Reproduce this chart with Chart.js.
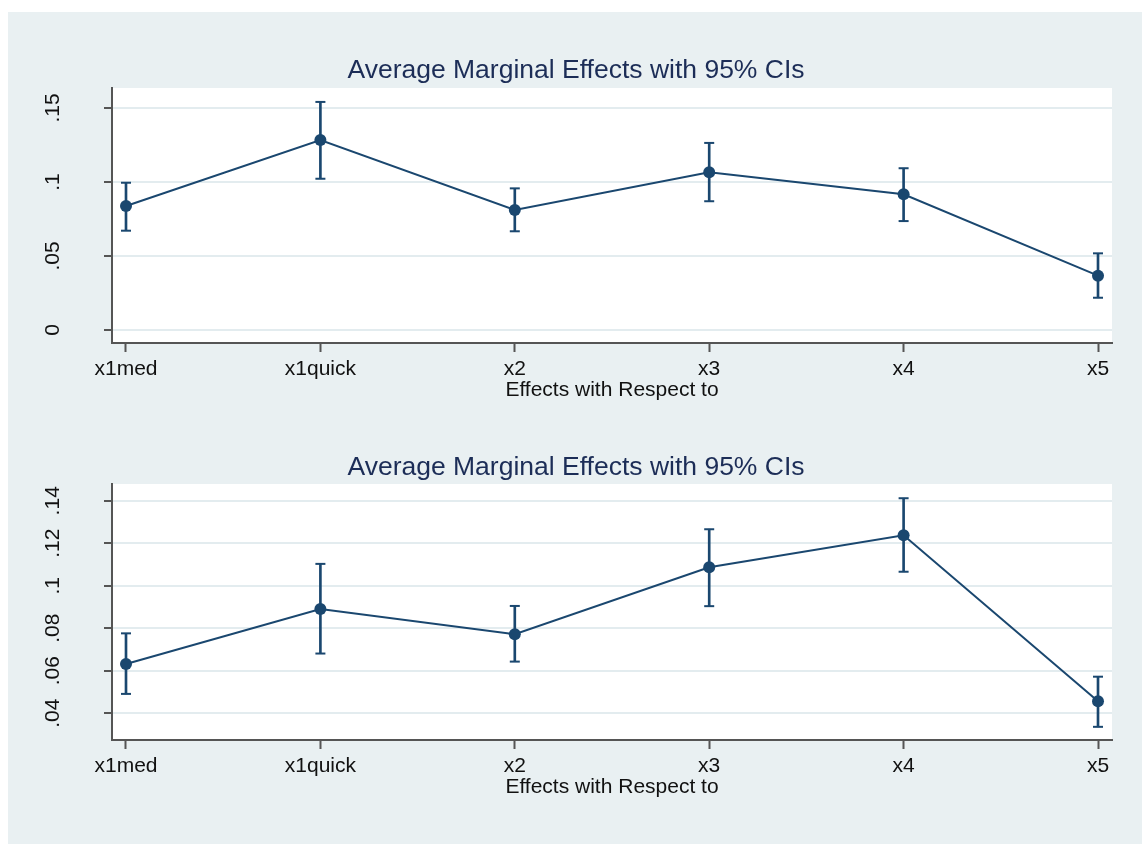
<!DOCTYPE html>
<html><head><meta charset="utf-8">
<script src="https://cdn.jsdelivr.net/npm/chart.js@4/dist/chart.umd.min.js"></script>
<style>
html,body{margin:0;padding:0;background:#fff;width:1142px;height:844px;overflow:hidden;}
#bg{position:absolute;left:8px;top:12px;right:0;bottom:0;background:#e9f0f2;}
.wrap{position:absolute;left:40px;width:1102px;}
#w1{top:0;height:420px;}
#w2{top:420px;height:424px;}
</style></head><body>
<div id="bg"></div>
<div class="wrap" id="w1"><canvas id="c1"></canvas></div>
<div class="wrap" id="w2"><canvas id="c2"></canvas></div>
<script>
// ---- data ----
const categories = ['x1med', 'x1quick', 'x2', 'x3', 'x4', 'x5'];
const chartTitle = 'Average Marginal Effects with 95% CIs';
const xAxisTitle = 'Effects with Respect to';

const topEst = [0.0838, 0.1284, 0.0811, 0.1066, 0.0917, 0.0367];
const topLo  = [0.0671, 0.1022, 0.0667, 0.0870, 0.0736, 0.0218];
const topHi  = [0.0995, 0.1541, 0.0957, 0.1264, 0.1093, 0.0518];
const topYTicks = [0, 0.05, 0.1, 0.15];
const topYTickLabels = ['0', '.05', '.1', '.15'];

const botEst = [0.0632, 0.0891, 0.0772, 0.1087, 0.1238, 0.0456];
const botLo  = [0.0491, 0.0681, 0.0643, 0.0904, 0.1066, 0.0336];
const botHi  = [0.0776, 0.1103, 0.0905, 0.1266, 0.1412, 0.0572];
const botYTicks = [0.04, 0.06, 0.08, 0.1, 0.12, 0.14];
const botYTickLabels = ['.04', '.06', '.08', '.1', '.12', '.14'];

// ---- style ----
const NAVY = '#1a476f';
const AXIS = '#555555';
const GRID = '#e3ecef';
Chart.defaults.font.family = "'Liberation Sans', Arial, Helvetica, sans-serif";
Chart.defaults.color = '#111';

const plotBg = {
  id: 'plotBg',
  beforeDraw(chart) {
    const {ctx, chartArea: a} = chart;
    ctx.save();
    ctx.fillStyle = '#ffffff';
    ctx.fillRect(a.left, a.top, a.right - a.left, a.bottom - a.top);
    ctx.restore();
  }
};

function makeChart(canvasId, est, lo, hi, yTicks, yLabels, yMin, yMax, titlePad, layoutPad) {
  return new Chart(document.getElementById(canvasId), {
    type: 'line',
    data: {
      datasets: [
        {
          type: 'line', order: 0,
          data: est.map((v, i) => ({x: i, y: v})),
          borderColor: NAVY, borderWidth: 2, tension: 0, fill: false,
          pointRadius: 6, pointHoverRadius: 6, pointBackgroundColor: NAVY, pointBorderWidth: 0
        },
        {
          type: 'scatter', order: 1,
          data: lo.map((v, i) => ({x: i, y: v})),
          pointStyle: 'line', pointRadius: 5, pointHoverRadius: 5,
          borderColor: NAVY, pointBorderColor: NAVY, pointBorderWidth: 2, showLine: false
        },
        {
          type: 'scatter', order: 1,
          data: hi.map((v, i) => ({x: i, y: v})),
          pointStyle: 'line', pointRadius: 5, pointHoverRadius: 5,
          borderColor: NAVY, pointBorderColor: NAVY, pointBorderWidth: 2, showLine: false
        },
        {
          type: 'bar', order: 2,
          data: lo.map((v, i) => ({x: i, y: [v, hi[i]]})),
          backgroundColor: NAVY, borderWidth: 0, barThickness: 2
        }
      ]
    },
    options: {
      responsive: true, maintainAspectRatio: false, devicePixelRatio: 1,
      animation: false, events: [],
      layout: {padding: layoutPad},
      plugins: {
        legend: {display: false},
        tooltip: {enabled: false},
        title: {
          display: true, text: chartTitle, color: '#1c2d57',
          font: {size: 26.5, weight: 'normal'}, padding: titlePad
        }
      },
      scales: {
        x: {
          type: 'linear', min: -0.072, max: 5.072, offset: false,
          afterBuildTicks: s => { s.ticks = categories.map((c, i) => ({value: i})); },
          afterFit: s => { s.height = 77; },
          ticks: {
            callback: (v, i) => categories[i], autoSkip: false, maxRotation: 0, minRotation: 0,
            font: {size: 21}, color: '#111', padding: 5
          },
          grid: {display: true, offset: false, drawOnChartArea: false, drawTicks: true,
                 tickLength: 9, tickColor: AXIS, tickWidth: 2},
          border: {display: true, color: AXIS, width: 2},
          title: {display: true, text: xAxisTitle, font: {size: 21}, color: '#111',
                  padding: {top: 0, bottom: 16.7}}
        },
        y: {
          type: 'linear', min: yMin, max: yMax, beginAtZero: false,
          afterBuildTicks: s => { s.ticks = yTicks.map(v => ({value: v})); },
          afterFit: s => { s.width = 72; },
          ticks: {
            callback: (v, i) => yLabels[i], autoSkip: false, minRotation: 90, maxRotation: 90,
            crossAlign: 'center', font: {size: 21}, color: '#111', padding: 36
          },
          grid: {display: true, drawOnChartArea: true, color: GRID, lineWidth: 2,
                 drawTicks: true, tickLength: 8, tickColor: AXIS, tickWidth: 2},
          border: {display: true, color: AXIS, width: 2}
        }
      }
    },
    plugins: [plotBg]
  });
}

makeChart('c1', topEst, topLo, topHi, topYTicks, topYTickLabels, -0.00878, 0.16351,
  {top: 54.7, bottom: 1.5}, {top: 0, left: 0, right: 30, bottom: 0});
makeChart('c2', botEst, botLo, botHi, botYTicks, botYTickLabels, 0.0274, 0.1479,
  {top: 31.4, bottom: 0.8}, {top: 0, left: 0, right: 30, bottom: 27});
</script>
</body></html>
